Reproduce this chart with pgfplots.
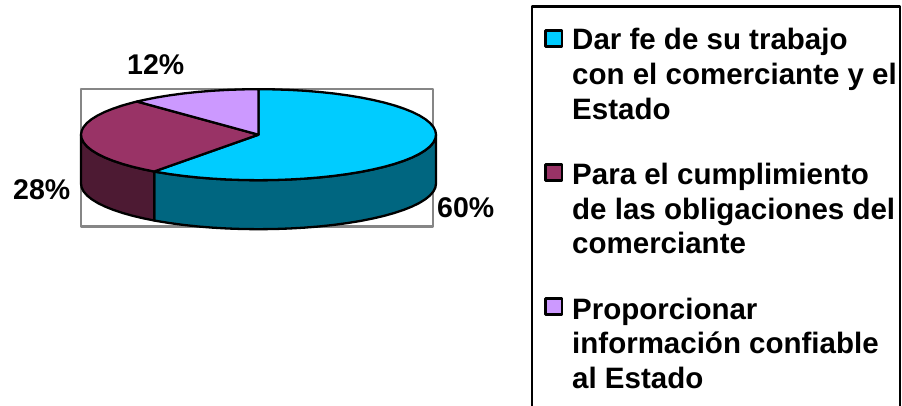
\documentclass[border=0pt]{standalone}
\usepackage{pgfplots}
\pgfplotsset{compat=1.18}
\usepackage{fontspec}
\setmainfont{Liberation Sans}
\definecolor{cyanTop}{HTML}{00CCFF}
\definecolor{cyanSide}{HTML}{006680}
\definecolor{plumTop}{HTML}{993366}
\definecolor{plumSide}{HTML}{4D1A33}
\definecolor{lilacTop}{HTML}{CC99FF}
\definecolor{frameGray}{HTML}{868686}
\tikzset{pct/.style={anchor=base west, inner sep=0pt, font=\fontsize{28.5pt}{32pt}\selectfont\bfseries},
         leg/.style={anchor=base west, inner sep=0pt, font=\fontsize{29.5pt}{34pt}\selectfont\bfseries}}
\begin{document}
\begin{tikzpicture}
\path[use as bounding box] (0pt,0pt) rectangle (902pt,406pt);
\begin{axis}[
  at={(0pt,0pt)}, anchor=south west,
  width=902pt, height=406pt, scale only axis,
  xmin=0, xmax=902, ymin=0, ymax=406, y dir=reverse,
  hide axis, clip=true,
  every axis plot/.append style={line join=round, line cap=round},
]
% plot frame
\addplot[draw=frameGray, line width=2.5pt, forget plot] coordinates {(81,89) (433,89) (433,226.5) (81,226.5) (81,89)};
% side wall of the 60% slice (90 to 216 degrees clockwise from the top)
\addplot[fill=cyanSide, draw=black, line width=2.3pt, forget plot] coordinates {
(436.00,134.70)(435.32,138.67)(433.30,142.60)(429.95,146.48)(425.30,150.26)(419.37,153.93)(412.22,157.45)(403.90,160.80)(394.47,163.95)(384.01,166.87)(372.60,169.55)(360.31,171.97)(347.25,174.10)(333.52,175.94)(319.21,177.46)(304.44,178.65)(289.32,179.51)(273.97,180.03)(258.50,180.20)(243.03,180.03)(227.68,179.51)(212.56,178.65)(197.79,177.46)(183.48,175.94)(169.75,174.10)(156.69,171.97)(154.17,171.51)
(154.17,220.51)(156.69,220.97)(169.75,223.10)(183.48,224.94)(197.79,226.46)(212.56,227.65)(227.68,228.51)(243.03,229.03)(258.50,229.20)(273.97,229.03)(289.32,228.51)(304.44,227.65)(319.21,226.46)(333.52,224.94)(347.25,223.10)(360.31,220.97)(372.60,218.55)(384.01,215.87)(394.47,212.95)(403.90,209.80)(412.22,206.45)(419.37,202.93)(425.30,199.26)(429.95,195.48)(433.30,191.60)(435.32,187.67)(436.00,183.70)(436.00,134.70)};
% side wall of the 28% slice (216 to 270 degrees)
\addplot[fill=plumSide, draw=black, line width=2.3pt, forget plot] coordinates {
(154.17,171.51)(144.40,169.55)(132.99,166.87)(122.53,163.95)(113.10,160.80)(104.78,157.45)(97.63,153.93)(91.70,150.26)(87.05,146.48)(83.70,142.60)(81.68,138.67)(81.00,134.70)
(81.00,183.70)(81.68,187.67)(83.70,191.60)(87.05,195.48)(91.70,199.26)(97.63,202.93)(104.78,206.45)(113.10,209.80)(122.53,212.95)(132.99,215.87)(144.40,218.55)(154.17,220.51)(154.17,171.51)};
% top of the 60% slice
\addplot[fill=cyanTop, draw=black, line width=2.3pt, forget plot] coordinates {
(258.50,134.70)(258.50,89.20)(273.97,89.37)(289.32,89.89)(304.44,90.75)(319.21,91.94)(333.52,93.46)(347.25,95.30)(360.31,97.43)(372.60,99.85)(384.01,102.53)(394.47,105.45)(403.90,108.60)(412.22,111.95)(419.37,115.47)(425.30,119.14)(429.95,122.92)(433.30,126.80)(435.32,130.73)(436.00,134.70)(435.32,138.67)(433.30,142.60)(429.95,146.48)(425.30,150.26)(419.37,153.93)(412.22,157.45)(403.90,160.80)(394.47,163.95)(384.01,166.87)(372.60,169.55)(360.31,171.97)(347.25,174.10)(333.52,175.94)(319.21,177.46)(304.44,178.65)(289.32,179.51)(273.97,180.03)(258.50,180.20)(243.03,180.03)(227.68,179.51)(212.56,178.65)(197.79,177.46)(183.48,175.94)(169.75,174.10)(156.69,171.97)(154.17,171.51)(258.50,134.70)};
% top of the 28% slice
\addplot[fill=plumTop, draw=black, line width=2.3pt, forget plot] coordinates {
(258.50,134.70)(154.17,171.51)(144.40,169.55)(132.99,166.87)(122.53,163.95)(113.10,160.80)(104.78,157.45)(97.63,153.93)(91.70,150.26)(87.05,146.48)(83.70,142.60)(81.68,138.67)(81.00,134.70)(81.68,130.73)(83.70,126.80)(87.05,122.92)(91.70,119.14)(97.63,115.47)(104.78,111.95)(113.10,108.60)(122.53,105.45)(132.99,102.53)(136.99,101.53)(258.50,134.70)};
% top of the 12% slice
\addplot[fill=lilacTop, draw=black, line width=2.3pt, forget plot] coordinates {
(258.50,134.70)(136.99,101.53)(144.40,99.85)(156.69,97.43)(169.75,95.30)(183.48,93.46)(197.79,91.94)(212.56,90.75)(227.68,89.89)(243.03,89.37)(258.50,89.20)(258.50,134.70)};
% legend box, open below the page edge
\addplot[draw=black, line width=2.3pt, forget plot] coordinates {(532,420)(532,6.5)(900,6.5)(900,420)};
% legend keys
\addplot[fill=cyanTop, draw=black, line width=2.2pt, forget plot] coordinates {(545.5,30.5)(562,30.5)(562,46.5)(545.5,46.5)(545.5,30.5)};
\addplot[fill=plumTop, draw=black, line width=2.2pt, forget plot] coordinates {(545.5,164.5)(562,164.5)(562,180.5)(545.5,180.5)(545.5,164.5)};
\addplot[fill=lilacTop, draw=black, line width=2.2pt, forget plot] coordinates {(545.5,298.5)(562,298.5)(562,314.5)(545.5,314.5)(545.5,298.5)};
% percentage labels
\node[pct] at (axis cs:127,75) {12\%};
\node[pct] at (axis cs:13,200) {28\%};
\node[pct] at (axis cs:437,217.5) {60\%};
\node[leg] at (axis cs:572,50) {Dar fe de su trabajo};
\node[leg] at (axis cs:572,85) {con el comerciante y el};
\node[leg] at (axis cs:572,120) {Estado};
\node[leg] at (axis cs:572,185) {Para el cumplimiento};
\node[leg] at (axis cs:572,219) {de las obligaciones del};
\node[leg] at (axis cs:572,254) {comerciante};
\node[leg] at (axis cs:572,319) {Proporcionar};
\node[leg] at (axis cs:572,353.5) {información confiable};
\node[leg] at (axis cs:572,388) {al Estado};
\end{axis}
\end{tikzpicture}
\end{document}
